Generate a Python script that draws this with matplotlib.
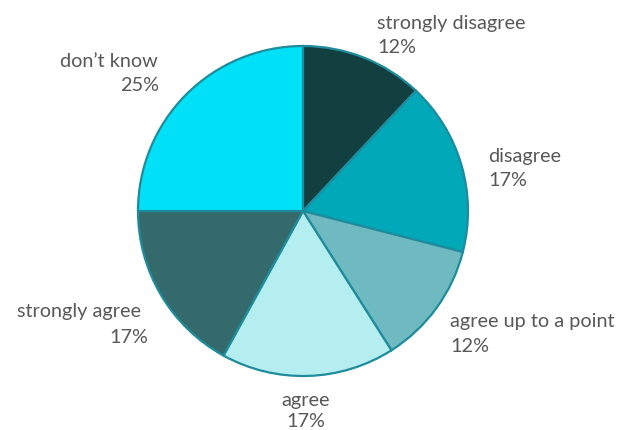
import matplotlib.pyplot as plt

categories = ['strongly disagree', 'disagree', 'agree up to a point', 'agree', 'strongly agree', "don\u2019t know"]
values = [12, 17, 12, 17, 17, 25]
colors = ['#123f3f', '#00a8b8', '#6fb9c0', '#b5eef0', '#346a6c', '#00e1f7']

# label placement in pixel coords (x, top y), alignment
label_pos = [(377, 15, 'left'), (488, 148, 'left'), (450, 313, 'left'),
             (306, 392, 'center'), (17, 303, 'left'), (158, 53, 'right')]
pct_pos = [(377, 39, 'left'), (488, 172, 'left'), (450, 338, 'left'),
           (306, 413, 'center'), (148, 329, 'right'), (159, 77, 'right')]

W, H = 628, 431
fig = plt.figure(figsize=(W / 100, H / 100), dpi=100)
ax = fig.add_axes([0, 0, 1, 1])

ax.pie(values, colors=colors, startangle=90, counterclock=False,
       center=(303, H - 212), radius=165, frame=True,
       wedgeprops=dict(edgecolor='#1e8c9c', linewidth=1.6))
ax.set_xlim(0, W)
ax.set_ylim(0, H)
ax.axis('off')

font = dict(family=['Lato', 'DejaVu Sans'], fontsize=14.3, color='#585858', va='top')
for name, v, (lx, ly, la), (px, py, pa) in zip(categories, values, label_pos, pct_pos):
    ax.text(lx, H - ly, name, ha=la, **font)
    ax.text(px, H - py, f'{v}%', ha=pa, **font)

fig.savefig('out.png', dpi=100)
